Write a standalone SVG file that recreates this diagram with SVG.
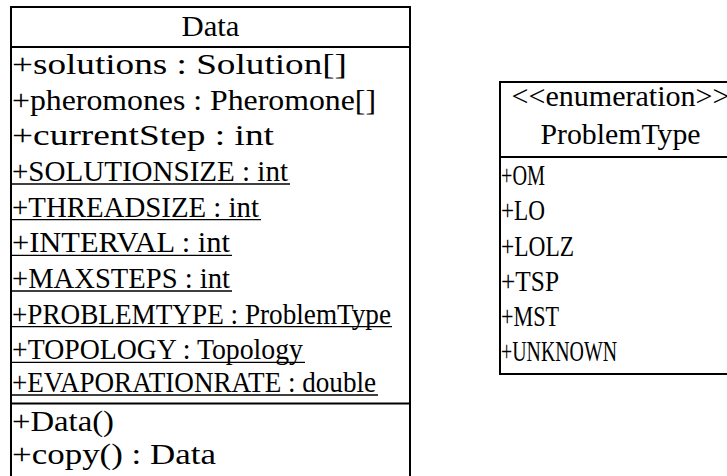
<svg xmlns="http://www.w3.org/2000/svg" width="727" height="476" viewBox="0 0 727 476">
<style>
.box{fill:#fff;stroke:#000;stroke-width:2}
.sep{stroke:#000;stroke-width:2}
.ul{stroke:#000;stroke-width:1.3}
text{font-family:"Liberation Serif","Times New Roman",serif;font-size:30px;fill:#000}
.c{text-anchor:middle}
</style>
<rect width="727" height="476" fill="#fff"/>
<g id="Data">
<rect class="box" x="11" y="7" width="399" height="480"/>
<line class="sep" x1="11" y1="47" x2="410" y2="47"/>
<line class="sep" x1="11" y1="403.5" x2="410" y2="403.5"/>
<text class="c" x="210.5" y="36" textLength="58" lengthAdjust="spacingAndGlyphs">Data</text>
<text x="12" y="74" textLength="335" lengthAdjust="spacingAndGlyphs">+solutions : Solution[]</text>
<text x="12" y="109.6" textLength="364" lengthAdjust="spacingAndGlyphs">+pheromones : Pheromone[]</text>
<text x="12" y="145.3" textLength="262" lengthAdjust="spacingAndGlyphs">+currentStep : int</text>
<text x="12" y="181" textLength="276" lengthAdjust="spacingAndGlyphs">+SOLUTIONSIZE : int</text>
<line class="ul" x1="12" y1="184" x2="290" y2="184"/>
<text x="12" y="216.6" textLength="247" lengthAdjust="spacingAndGlyphs">+THREADSIZE : int</text>
<line class="ul" x1="12" y1="219.6" x2="261" y2="219.6"/>
<text x="12" y="252.3" textLength="218" lengthAdjust="spacingAndGlyphs">+INTERVAL : int</text>
<line class="ul" x1="12" y1="255.3" x2="232" y2="255.3"/>
<text x="12" y="288" textLength="218" lengthAdjust="spacingAndGlyphs">+MAXSTEPS : int</text>
<line class="ul" x1="12" y1="291" x2="232" y2="291"/>
<text x="12" y="323.6" textLength="379" lengthAdjust="spacingAndGlyphs">+PROBLEMTYPE : ProblemType</text>
<line class="ul" x1="12" y1="326.6" x2="392" y2="326.6"/>
<text x="12" y="359.3" textLength="291" lengthAdjust="spacingAndGlyphs">+TOPOLOGY : Topology</text>
<line class="ul" x1="12" y1="362.3" x2="305" y2="362.3"/>
<text x="12" y="392" textLength="364" lengthAdjust="spacingAndGlyphs">+EVAPORATIONRATE : double</text>
<line class="ul" x1="12" y1="395" x2="378" y2="395"/>
<text x="12" y="431" textLength="102" lengthAdjust="spacingAndGlyphs">+Data()</text>
<text x="12" y="463.5" textLength="204" lengthAdjust="spacingAndGlyphs">+copy() : Data</text>
</g>
<g id="ProblemType">
<rect class="box" x="500" y="82" width="241" height="292"/>
<line class="sep" x1="500" y1="157" x2="741" y2="157"/>
<text class="c" x="620.5" y="106" textLength="218" lengthAdjust="spacingAndGlyphs">&lt;&lt;enumeration&gt;&gt;</text>
<text class="c" x="620.5" y="144" textLength="160" lengthAdjust="spacingAndGlyphs">ProblemType</text>
<text x="501" y="184.5" textLength="44" lengthAdjust="spacingAndGlyphs">+OM</text>
<text x="501" y="220" textLength="44" lengthAdjust="spacingAndGlyphs">+LO</text>
<text x="501" y="255.5" textLength="73" lengthAdjust="spacingAndGlyphs">+LOLZ</text>
<text x="501" y="290.5" textLength="58" lengthAdjust="spacingAndGlyphs">+TSP</text>
<text x="501" y="325.5" textLength="58" lengthAdjust="spacingAndGlyphs">+MST</text>
<text x="501" y="361" textLength="116" lengthAdjust="spacingAndGlyphs">+UNKNOWN</text>
</g>
</svg>
